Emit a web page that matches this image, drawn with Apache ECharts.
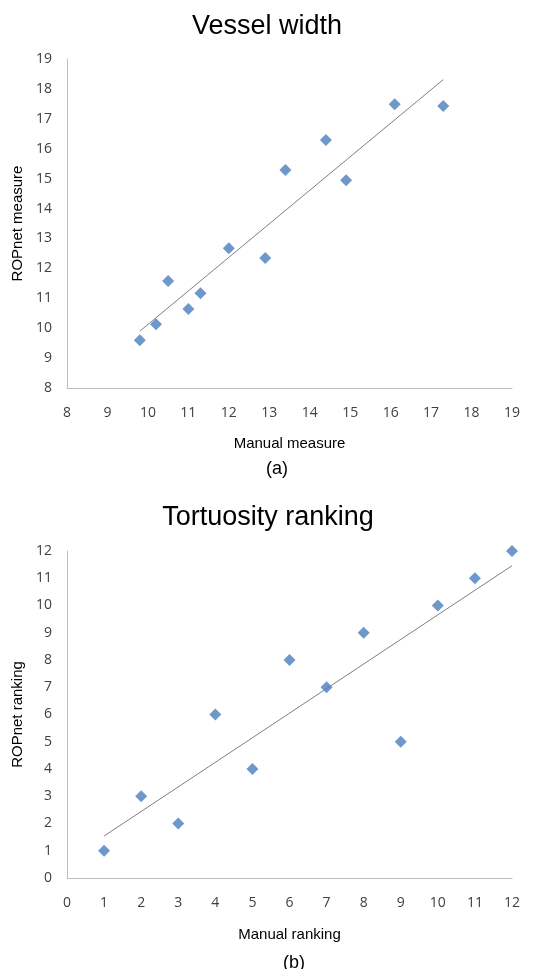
<!DOCTYPE html>
<html>
<head>
<meta charset="utf-8">
<script src="https://cdn.jsdelivr.net/npm/echarts@6/dist/echarts.min.js"></script>
<style>
html,body{margin:0;padding:0;background:#fff;}
#c{width:547px;height:969px;}
</style>
</head>
<body>
<div id="c"></div>
<script>
// Vessel width (a)
const vesselManual = [9.8, 10.2, 10.5, 11.0, 11.3, 12.0, 12.9, 13.4, 14.4, 14.9, 16.1, 17.3];
const vesselROPnet = [9.6, 10.13, 11.58, 10.64, 11.17, 12.67, 12.35, 15.29, 16.29, 14.95, 17.49, 17.43];
const vesselTrend = [[9.8, 9.9], [17.3, 18.31]];

// Tortuosity ranking (b)
const tortManual = [1, 2, 3, 4, 5, 6, 7, 8, 9, 10, 11, 12];
const tortROPnet = [1, 3, 2, 6, 4, 8, 7, 9, 5, 10, 11, 12];
const tortTrend = [[1, 1.54], [12, 11.46]];

const pair = (xs, ys) => xs.map((x, i) => [x, ys[i]]);

const FONT = '"Open Sans", "Liberation Sans", sans-serif';
const ARIAL = '"Liberation Sans", Arial, sans-serif';
const axisLabel = {color: '#404040', fontSize: 14, fontFamily: FONT};
const axisLine = {show: true, lineStyle: {color: '#BDBDBD', width: 1}};
const blue = '#4A7EBB';
const nameStyle = {fontFamily: ARIAL, fontSize: 15, color: '#000'};

const chart = echarts.init(document.getElementById('c'), null, {renderer: 'canvas'});
chart.setOption({
  animation: false,
  backgroundColor: '#fff',
  title: [
    {text: 'Vessel width', left: 262, top: 8, textAlign: 'center',
     textStyle: {fontFamily: ARIAL, fontSize: 27, fontWeight: 'normal', color: '#000'}},
    {text: 'Tortuosity ranking', left: 263, top: 499, textAlign: 'center',
     textStyle: {fontFamily: ARIAL, fontSize: 27, fontWeight: 'normal', color: '#000'}},
    {text: '(a)', left: 272, top: 455, textAlign: 'center',
     textStyle: {fontFamily: ARIAL, fontSize: 18, fontWeight: 'normal', color: '#000'}},
    {text: '(b)', left: 289, top: 949, textAlign: 'center',
     textStyle: {fontFamily: ARIAL, fontSize: 18, fontWeight: 'normal', color: '#000'}}
  ],
  grid: [
    {left: 67, right: 35, top: 59, height: 329},
    {left: 67, right: 35, top: 551, height: 327}
  ],
  xAxis: [
    {gridIndex: 0, type: 'value', min: 8, max: 19, interval: 1,
     name: 'Manual measure', nameLocation: 'middle', nameGap: 48,
     nameTextStyle: nameStyle,
     axisLine: axisLine, axisTick: {show: false}, splitLine: {show: false},
     axisLabel: Object.assign({margin: 18}, axisLabel)},
    {gridIndex: 1, type: 'value', min: 0, max: 12, interval: 1,
     name: 'Manual ranking', nameLocation: 'middle', nameGap: 49,
     nameTextStyle: nameStyle,
     axisLine: axisLine, axisTick: {show: false}, splitLine: {show: false},
     axisLabel: Object.assign({margin: 18}, axisLabel)}
  ],
  yAxis: [
    {gridIndex: 0, type: 'value', min: 8, max: 19, interval: 1,
     name: 'ROPnet measure', nameLocation: 'middle', nameGap: 42, nameRotate: 90,
     nameTextStyle: nameStyle,
     axisLine: axisLine, axisTick: {show: false}, splitLine: {show: false},
     axisLabel: Object.assign({margin: 15}, axisLabel)},
    {gridIndex: 1, type: 'value', min: 0, max: 12, interval: 1,
     name: 'ROPnet ranking', nameLocation: 'middle', nameGap: 42, nameRotate: 90,
     nameTextStyle: nameStyle,
     axisLine: axisLine, axisTick: {show: false}, splitLine: {show: false},
     axisLabel: Object.assign({margin: 15}, axisLabel)}
  ],
  series: [
    {type: 'line', xAxisIndex: 0, yAxisIndex: 0, data: vesselTrend, symbol: 'none',
     lineStyle: {color: '#7F7F7F', width: 1}, z: 1},
    {type: 'scatter', xAxisIndex: 0, yAxisIndex: 0, data: pair(vesselManual, vesselROPnet),
     symbol: 'diamond', symbolSize: [12, 12], itemStyle: {color: blue}, z: 2},
    {type: 'line', xAxisIndex: 1, yAxisIndex: 1, data: tortTrend, symbol: 'none',
     lineStyle: {color: '#7F7F7F', width: 1}, z: 1},
    {type: 'scatter', xAxisIndex: 1, yAxisIndex: 1, data: pair(tortManual, tortROPnet),
     symbol: 'diamond', symbolSize: [12, 12], itemStyle: {color: blue}, z: 2}
  ]
});
</script>
</body>
</html>
